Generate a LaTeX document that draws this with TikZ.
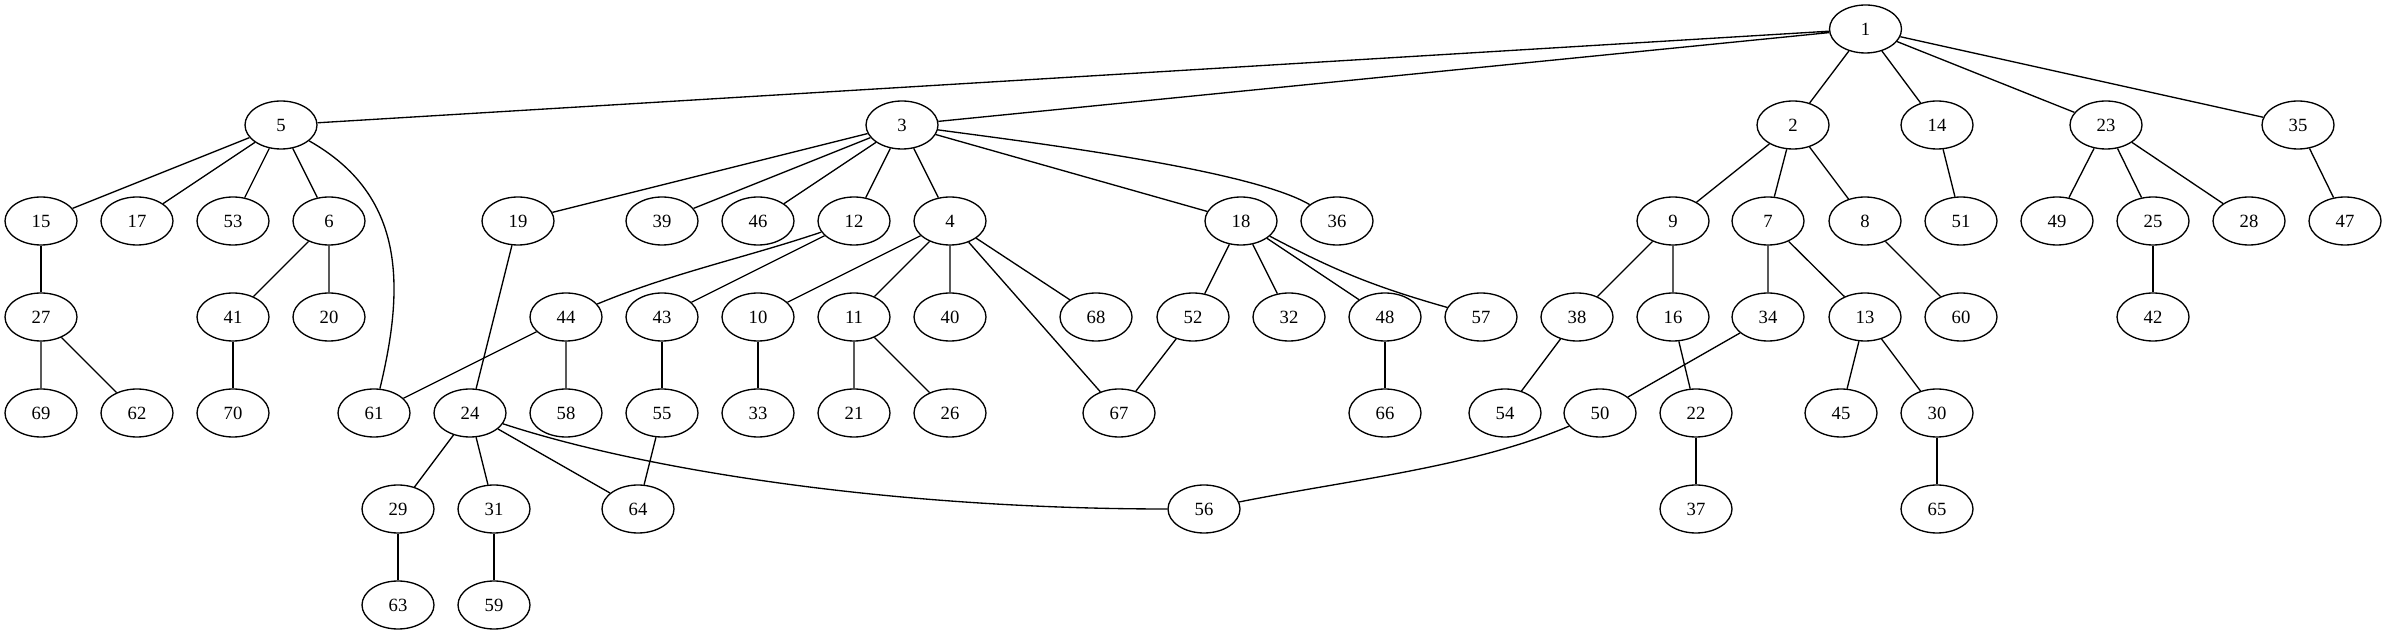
\documentclass[tikz,border=0pt]{standalone}
\usepackage{fontspec}
\setmainfont{Liberation Serif}
\usepackage{tikz}
\usetikzlibrary{shapes.geometric}

\begin{document}
\begin{tikzpicture}[x=0.75pt, y=0.75pt, line width=1pt,
		vertex/.style={shape=ellipse, draw, line width=1pt, inner sep=0, minimum width=54pt, minimum height=36pt, font=\fontsize{14}{16}\selectfont}]
			\useasboundingbox (0,0) rectangle (2387,635);
			% Nodes, rank by rank:
			\node[vertex](Ellipse1) at (1865.5,606){1};
			\node[vertex](Ellipse5) at (281,510){5};
			\node[vertex](Ellipse3) at (902,510){3};
			\node[vertex](Ellipse2) at (1793,510){2};
			\node[vertex](Ellipse14) at (1937,510){14};
			\node[vertex](Ellipse23) at (2106,510){23};
			\node[vertex](Ellipse35) at (2298,510){35};
			\node[vertex](Ellipse15) at (41,414){15};
			\node[vertex](Ellipse17) at (137,414){17};
			\node[vertex](Ellipse53) at (233,414){53};
			\node[vertex](Ellipse6) at (329,414){6};
			\node[vertex](Ellipse19) at (518,414){19};
			\node[vertex](Ellipse39) at (662,414){39};
			\node[vertex](Ellipse46) at (758,414){46};
			\node[vertex](Ellipse12) at (854,414){12};
			\node[vertex](Ellipse4) at (950,414){4};
			\node[vertex](Ellipse18) at (1241,414){18};
			\node[vertex](Ellipse36) at (1337,414){36};
			\node[vertex](Ellipse9) at (1673,414){9};
			\node[vertex](Ellipse7) at (1768,414){7};
			\node[vertex](Ellipse8) at (1865,414){8};
			\node[vertex](Ellipse51) at (1961,414){51};
			\node[vertex](Ellipse49) at (2057,414){49};
			\node[vertex](Ellipse25) at (2153,414){25};
			\node[vertex](Ellipse28) at (2249,414){28};
			\node[vertex](Ellipse47) at (2345,414){47};
			\node[vertex](Ellipse27) at (41,318){27};
			\node[vertex](Ellipse41) at (233,318){41};
			\node[vertex](Ellipse20) at (329,318){20};
			\node[vertex](Ellipse44) at (566,318){44};
			\node[vertex](Ellipse43) at (662,318){43};
			\node[vertex](Ellipse10) at (758,318){10};
			\node[vertex](Ellipse11) at (854,318){11};
			\node[vertex](Ellipse40) at (950,318){40};
			\node[vertex](Ellipse68) at (1096,318){68};
			\node[vertex](Ellipse52) at (1193,318){52};
			\node[vertex](Ellipse32) at (1289,318){32};
			\node[vertex](Ellipse48) at (1385,318){48};
			\node[vertex](Ellipse57) at (1481,318){57};
			\node[vertex](Ellipse38) at (1577,318){38};
			\node[vertex](Ellipse16) at (1673,318){16};
			\node[vertex](Ellipse34) at (1768,318){34};
			\node[vertex](Ellipse13) at (1865,318){13};
			\node[vertex](Ellipse60) at (1961,318){60};
			\node[vertex](Ellipse42) at (2153,318){42};
			\node[vertex](Ellipse69) at (41,222){69};
			\node[vertex](Ellipse62) at (137,222){62};
			\node[vertex](Ellipse70) at (233,222){70};
			\node[vertex](Ellipse61) at (374,222){61};
			\node[vertex](Ellipse24) at (470,222){24};
			\node[vertex](Ellipse58) at (566,222){58};
			\node[vertex](Ellipse55) at (662,222){55};
			\node[vertex](Ellipse33) at (758,222){33};
			\node[vertex](Ellipse21) at (854,222){21};
			\node[vertex](Ellipse26) at (950,222){26};
			\node[vertex](Ellipse67) at (1119,222){67};
			\node[vertex](Ellipse66) at (1385,222){66};
			\node[vertex](Ellipse54) at (1505,222){54};
			\node[vertex](Ellipse50) at (1600,222){50};
			\node[vertex](Ellipse22) at (1696,222){22};
			\node[vertex](Ellipse45) at (1841,222){45};
			\node[vertex](Ellipse30) at (1937,222){30};
			\node[vertex](Ellipse29) at (398,126){29};
			\node[vertex](Ellipse31) at (494,126){31};
			\node[vertex](Ellipse64) at (638,126){64};
			\node[vertex](Ellipse56) at (1204,126){56};
			\node[vertex](Ellipse37) at (1696,126){37};
			\node[vertex](Ellipse65) at (1937,126){65};
			\node[vertex](Ellipse63) at (398,30){63};
			\node[vertex](Ellipse59) at (494,30){59};
			% Edges:
			\draw (Ellipse1) -- (Ellipse5) (Ellipse1) -- (Ellipse3) (Ellipse1) -- (Ellipse2) (Ellipse1) -- (Ellipse14) (Ellipse1) -- (Ellipse23) (Ellipse1) -- (Ellipse35);
			\draw (Ellipse5) -- (Ellipse15) (Ellipse5) -- (Ellipse17) (Ellipse5) -- (Ellipse53) (Ellipse5) -- (Ellipse6);
			\draw (Ellipse5) .. controls (405,440) and (405,350) .. (Ellipse61);
			\draw (Ellipse3) -- (Ellipse19) (Ellipse3) -- (Ellipse39) (Ellipse3) -- (Ellipse46) (Ellipse3) -- (Ellipse12) (Ellipse3) -- (Ellipse4) (Ellipse3) -- (Ellipse18);
			\draw (Ellipse3) .. controls (1020,494) and (1250,466) .. (Ellipse36);
			\draw (Ellipse2) -- (Ellipse9) (Ellipse2) -- (Ellipse7) (Ellipse2) -- (Ellipse8);
			\draw (Ellipse14) -- (Ellipse51);
			\draw (Ellipse23) -- (Ellipse49) (Ellipse23) -- (Ellipse25) (Ellipse23) -- (Ellipse28);
			\draw (Ellipse35) -- (Ellipse47);
			\draw (Ellipse15) -- (Ellipse27);
			\draw (Ellipse6) -- (Ellipse41) (Ellipse6) -- (Ellipse20);
			\draw (Ellipse19) -- (Ellipse24);
			\draw (Ellipse12) .. controls (748,378) and (672,362) .. (Ellipse44);
			\draw (Ellipse12) -- (Ellipse43);
			\draw (Ellipse4) -- (Ellipse10) (Ellipse4) -- (Ellipse11) (Ellipse4) -- (Ellipse40) (Ellipse4) -- (Ellipse67) (Ellipse4) -- (Ellipse68);
			\draw (Ellipse18) -- (Ellipse52) (Ellipse18) -- (Ellipse32) (Ellipse18) -- (Ellipse48);
			\draw (Ellipse18) to[bend right=6] (Ellipse57);
			\draw (Ellipse9) -- (Ellipse38) (Ellipse9) -- (Ellipse16);
			\draw (Ellipse7) -- (Ellipse34) (Ellipse7) -- (Ellipse13);
			\draw (Ellipse8) -- (Ellipse60);
			\draw (Ellipse25) -- (Ellipse42);
			\draw (Ellipse27) -- (Ellipse69) (Ellipse27) -- (Ellipse62);
			\draw (Ellipse41) -- (Ellipse70);
			\draw (Ellipse44) -- (Ellipse61) (Ellipse44) -- (Ellipse58);
			\draw (Ellipse43) -- (Ellipse55);
			\draw (Ellipse10) -- (Ellipse33);
			\draw (Ellipse11) -- (Ellipse21) (Ellipse11) -- (Ellipse26);
			\draw (Ellipse52) -- (Ellipse67);
			\draw (Ellipse48) -- (Ellipse66);
			\draw (Ellipse38) -- (Ellipse54);
			\draw (Ellipse16) -- (Ellipse22);
			\draw (Ellipse34) -- (Ellipse50);
			\draw (Ellipse13) -- (Ellipse45) (Ellipse13) -- (Ellipse30);
			\draw (Ellipse24) -- (Ellipse29) (Ellipse24) -- (Ellipse31) (Ellipse24) -- (Ellipse64);
			\draw (Ellipse24) .. controls (650,163) and (900,126) .. (Ellipse56);
			\draw (Ellipse55) -- (Ellipse64);
			\draw (Ellipse50) .. controls (1473,168) and (1349,155) .. (Ellipse56);
			\draw (Ellipse22) -- (Ellipse37);
			\draw (Ellipse30) -- (Ellipse65);
			\draw (Ellipse29) -- (Ellipse63);
			\draw (Ellipse31) -- (Ellipse59);
		\end{tikzpicture}
\end{document}
